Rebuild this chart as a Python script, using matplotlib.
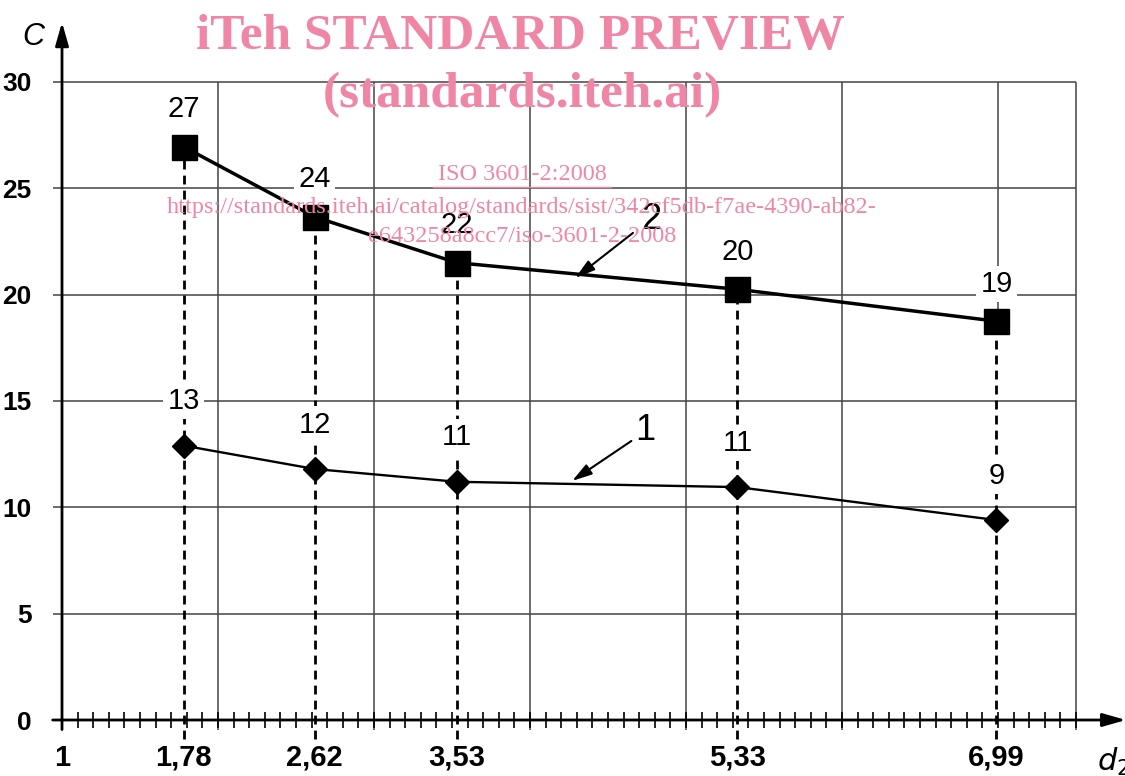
import numpy as np
import matplotlib.pyplot as plt

plt.rcParams['font.family'] = ['Liberation Sans', 'DejaVu Sans']

# data
d_tick_pos = [1, 1.78, 2.62, 3.53, 5.33, 6.99]
d_tick_lbl = ['1', '1,78', '2,62', '3,53', '5,33', '6,99']
d_points = [1.78, 2.62, 3.53, 5.33, 6.99]
c_curve2 = [26.95, 23.65, 21.5, 20.25, 18.75]
c_curve1 = [12.9, 11.8, 11.2, 10.95, 9.4]
lbl_curve2 = ['27', '24', '22', '20', '19']
lbl_curve1 = ['13', '12', '11', '11', '9']
c_ticks = [0, 5, 10, 15, 20, 25, 30]
grid_x = [2, 3, 4, 5, 6, 7.5]

pink = '#ef86a6'
grid_col = '#444444'

fig = plt.figure(figsize=(11.25, 7.76), dpi=100)
ax = fig.add_axes([62 / 1125, 56 / 776, 1048 / 1125, 700 / 776])
ax.set_xlim(1, 1 + 1048 / 156)
ax.set_ylim(0, 700 / 21.27)
for s in ax.spines.values():
    s.set_visible(False)

# grid
ax.hlines(c_ticks[1:], 0.94, 7.5, color=grid_col, lw=1.1, clip_on=False, zorder=1)
ax.vlines(grid_x, -0.45, 30, color=grid_col, lw=1.1, clip_on=False, zorder=1)
ax.vlines(7, c_curve2[-1], 30, color=grid_col, lw=1.1, zorder=1)

# axes with arrows
ax.annotate('', xy=(7.82, 0), xytext=(0.94, 0), annotation_clip=False,
            arrowprops=dict(arrowstyle='-|>,head_length=1.4,head_width=0.4',
                            mutation_scale=10, lw=2, color='black', shrinkA=0, shrinkB=0))
ax.annotate('', xy=(1, 32.8), xytext=(1, -0.45), annotation_clip=False,
            arrowprops=dict(arrowstyle='-|>,head_length=1.4,head_width=0.4',
                            mutation_scale=10, lw=2, color='black', shrinkA=0, shrinkB=0))

# dashed drop lines
ax.vlines(d_points, -0.9, c_curve2, colors='black', lw=2,
          linestyles=(0, (3.2, 2.2)), clip_on=False, zorder=2)

# curves
ax.plot(d_points, c_curve2, color='black', lw=2.5, marker='s', ms=18, zorder=4)
ax.plot(d_points, c_curve1, color='black', lw=1.7, marker='D', ms=12, zorder=4)

box = dict(fc='white', ec='none', pad=3)
for x, y, t in zip(d_points, c_curve2, lbl_curve2):
    ax.annotate(t, (x, y), xytext=(0, 27), textcoords='offset points',
                ha='center', va='center', fontsize=21, bbox=box, zorder=5)
for x, y, t in zip(d_points, c_curve1, lbl_curve1):
    ax.annotate(t, (x, y), xytext=(0, 32), textcoords='offset points',
                ha='center', va='center', fontsize=21, bbox=box, zorder=5)

# curve callouts
arrow = dict(arrowstyle='-|>,head_length=1.2,head_width=0.35', mutation_scale=10,
             lw=1.5, color='black', shrinkA=0, shrinkB=0)
ax.annotate('', xy=(4.29, 20.78), xytext=(4.66, 22.9), arrowprops=arrow, zorder=5)
ax.text(4.78, 23.55, '2', fontsize=26, ha='center', va='center', zorder=5)
ax.annotate('', xy=(4.27, 11.24), xytext=(4.65, 13.12), arrowprops=arrow, zorder=5)
ax.text(4.74, 13.63, '1', fontsize=26, ha='center', va='center', zorder=5)

# ticks
ax.set_xticks(d_tick_pos)
ax.set_xticklabels(d_tick_lbl, fontsize=21, fontweight='bold')
ax.set_xticks(np.arange(1.0, 7.55, 0.1), minor=True)
ax.tick_params(axis='x', which='major', length=0, pad=17)
ax.tick_params(axis='x', which='minor', direction='inout', length=11, width=1.2)
ax.set_yticks(c_ticks)
ax.set_yticklabels([str(v) for v in c_ticks], fontsize=19, fontweight='bold')
ax.tick_params(axis='y', length=0, pad=22)

fig.text(33 / 1125, 1 - 37 / 776, 'C', fontsize=22, style='italic', ha='center', va='center')
fig.text(1097 / 1125, 1 - 762 / 776, '$d_2$', fontsize=22, ha='left', va='center')

# watermark
fig.text(0.463, 1 - 37 / 776, 'iTeh STANDARD PREVIEW', family='Liberation Serif',
         fontweight='bold', fontsize=37, color=pink, ha='center', va='center', zorder=10)
fig.text(0.464, 1 - 95 / 776, '(standards.iteh.ai)', family='Liberation Serif',
         fontweight='bold', fontsize=37, color=pink, ha='center', va='center', zorder=10)
fig.text(0.464, 1 - 175 / 776, 'ISO 3601-2:2008', family='Liberation Serif',
         fontsize=17.5, color=pink, ha='center', va='center', zorder=10)
fig.text(0.464, 1 - 208 / 776,
         'https://standards.iteh.ai/catalog/standards/sist/342cf5db-f7ae-4390-ab82-',
         family='Liberation Serif', fontsize=17.5, color=pink, ha='center', va='center', zorder=10)
fig.text(0.464, 1 - 237 / 776, 'e643258a8cc7/iso-3601-2-2008', family='Liberation Serif',
         fontsize=17.5, color=pink, ha='center', va='center', zorder=10)
fig.add_artist(plt.Line2D([433 / 1125, 611 / 1125], [1 - 187 / 776, 1 - 187 / 776],
                          color=pink, lw=1))

fig.savefig('out.png', dpi=100)
